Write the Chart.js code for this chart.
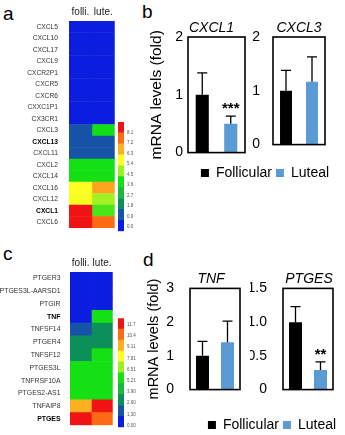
<!DOCTYPE html>
<html><head><meta charset="utf-8">
<script src="https://cdn.jsdelivr.net/npm/chart.js@4.4.1/dist/chart.umd.min.js"></script>
<style>
html,body{margin:0;padding:0;background:#fff;}
body{width:345px;height:435px;position:relative;overflow:hidden;font-family:'Liberation Sans',Arial,sans-serif;}
canvas{position:absolute;}
.lbl{position:absolute;font-size:19px;line-height:19px;color:#000;font-family:'Liberation Sans',Arial,sans-serif;}
</style></head><body>
<div class="lbl" style="left:3px;top:4px">a</div>
<div class="lbl" style="left:142px;top:2px">b</div>
<div class="lbl" style="left:3px;top:244px">c</div>
<div class="lbl" style="left:143px;top:250px">d</div>
<canvas id="heatA" width="116" height="235" style="left:0;top:0"></canvas>
<canvas id="cbarA" width="30" height="122" style="left:112px;top:115px"></canvas>
<canvas id="heatC" width="115" height="180" style="left:0;top:251px"></canvas>
<canvas id="cbarC" width="30" height="121" style="left:112px;top:312px"></canvas>
<canvas id="barB1" width="106" height="151" style="left:143px;top:15px"></canvas>
<canvas id="barB2" width="81" height="151" style="left:248px;top:15px"></canvas>
<canvas id="legB" width="140" height="60" style="left:195px;top:162px"></canvas>
<canvas id="barD1" width="103" height="150" style="left:141px;top:264px"></canvas>
<canvas id="barD2" width="87" height="150" style="left:250px;top:264px"></canvas>
<canvas id="legD" width="140" height="60" style="left:202px;top:414px"></canvas>
<script>
// ---------- data ----------
const heatCols = ['folli.', 'lute.'];
const geneA = ['CXCL5','CXCL10','CXCL17','CXCL9','CXCR2P1','CXCR5','CXCR6','CXXC1P1','CX3CR1','CXCL3','CXCL13','CXCL11','CXCL2','CXCL14','CXCL16','CXCL12','CXCL1','CXCL6'];
const folliA = [0.2,0.2,0.2,0.2,0.2,0.2,0.2,0.2,0.2,1.35,1.35,1.35,4.05,4.05,5.85,5.8,8.55,8.55];
const luteA  = [0.2,0.2,0.2,0.2,0.2,0.2,0.2,0.2,0.2,4.0,1.35,1.35,4.05,4.05,6.9,5.0,4.4,7.65];
const boldA = ['CXCL13','CXCL1'];
const cbarTicksA = ['0.0','0.9','1.8','2.7','3.6','4.5','5.4','6.3','7.2','8.1'];

const geneC = ['PTGER3','PTGES3L-AARSD1','PTGIR','TNF','TNFSF14','PTGER4','TNFSF12','PTGES3L','TNFRSF10A','PTGES2-AS1','TNFAIP8','PTGES'];
const folliC = [0.3,0.3,0.3,0.3,1.95,3.25,3.25,5.86,5.86,5.86,9.76,12.35];
const luteC  = [0.3,0.3,0.3,5.86,3.25,3.25,5.86,5.86,5.86,5.86,12.35,11.05];
const boldC = ['TNF','PTGES'];
const cbarTicksC = ['0.00','1.30','2.60','3.90','5.21','6.51','7.81','9.11','10.4','11.7'];

const palette = ['#0b1ee0','#1753a6','#0c905a','#1ab83c','#14e014','#9cf024','#ffff22','#ffb020','#ff6a14','#f01414'];

const groups = ['Follicular','Luteal'];
const groupColors = ['#000000','#5b9bd5'];
const cxcl1 = [1.0, 0.5],  cxcl1Err = [1.38, 0.63], cxcl1Sig = ['', '***'];
const cxcl3 = [1.0, 1.17], cxcl3Err = [1.38, 1.63], cxcl3Sig = ['', ''];
const tnf   = [1.0, 1.4],  tnfErr   = [1.43, 2.03], tnfSig   = ['', ''];
const ptges = [1.0, 0.29], ptgesErr = [1.23, 0.41], ptgesSig = ['', '**'];

const FONT = "'Liberation Sans', Arial, sans-serif";
Chart.defaults.font.family = FONT;
Chart.defaults.animation = false;
Chart.defaults.plugins.tooltip.enabled = false;
Chart.defaults.plugins.legend.display = false;

function hexRgb(h){return [1,3,5].map(i=>parseInt(h.substr(i,2),16));}
function heatColor(v, bin){
  let p = v/bin - 0.5; p = Math.max(0, Math.min(palette.length-1, p));
  const i = Math.min(Math.floor(p), palette.length-2), t = p - i;
  const a = hexRgb(palette[i]), b = hexRgb(palette[i+1]);
  const c = a.map((x,k)=>Math.round(x+(b[k]-x)*t));
  return `rgb(${c[0]},${c[1]},${c[2]})`;
}

function makeHeat(id, genes, f, l, bold, bin, fs, yW, tp, pad){
  new Chart(document.getElementById(id), {
    type:'bar',
    data:{labels:genes, datasets:[
      {data:genes.map(()=>[0,1]), backgroundColor:f.map(v=>heatColor(v,bin))},
      {data:genes.map(()=>[1,2]), backgroundColor:l.map(v=>heatColor(v,bin))}
    ]},
    options:{
      responsive:false, indexAxis:'y',
      layout:{padding:pad},
      datasets:{bar:{barPercentage:1, categoryPercentage:1, grouped:false, borderWidth:0}},
      scales:{
        y:{type:'category', grid:{display:false}, border:{display:false},
           afterFit:s=>{s.width=yW;},
           ticks:{autoSkip:false, padding:tp,
             color:ctx=>bold.includes(genes[ctx.index])?'#000':'#333',
             font:ctx=>({family:FONT, size:fs, weight:bold.includes(genes[ctx.index])?'bold':'normal'})}},
        x:{type:'linear', position:'top', min:0, max:2, grid:{display:false, drawTicks:false}, border:{display:false},
           afterFit:s=>{s.height=21;},
           afterBuildTicks:s=>{s.ticks=heatCols.map((c,i)=>({value:i+0.5}));},
           ticks:{autoSkip:false, maxRotation:0, padding:3, color:'#222', font:{size:10},
             callback:v=>heatCols[Math.floor(v)]}}
      }
    }
  });
}

function makeCbar(id, ticks, lo, hi, pad){
  const vals = ticks.map(parseFloat);
  new Chart(document.getElementById(id), {
    type:'bar',
    data:{labels:[''], datasets:palette.map(c=>({data:[1], backgroundColor:c}))},
    options:{
      responsive:false, layout:{padding:pad},
      datasets:{bar:{barPercentage:1, categoryPercentage:1, borderWidth:0}},
      scales:{
        x:{display:false, stacked:true},
        y:{display:false, stacked:true, min:0, max:palette.length},
        y2:{position:'right', min:lo, max:hi, grid:{display:false, drawTicks:false}, border:{display:false},
            afterFit:s=>{s.width=18;},
            afterBuildTicks:s=>{s.ticks=vals.map(v=>({value:v}));},
            ticks:{padding:3, color:'#555', font:{size:4.5}, autoSkip:false,
              callback:(v,i)=>ticks[i]}}
      }
    }
  });
}

const panelPlugin = {
  id:'panel',
  afterDatasetsDraw(chart, args, opts){
    const {ctx, chartArea:a} = chart; const y = chart.scales.y;
    ctx.save();
    chart.data.datasets.forEach((ds,i)=>{
      const meta = chart.getDatasetMeta(i);
      meta.data.forEach((bar,j)=>{
        const yt = y.getPixelForValue(ds.err[j]);
        ctx.strokeStyle='#000'; ctx.lineWidth=1.3;
        ctx.beginPath();
        ctx.moveTo(bar.x, bar.y); ctx.lineTo(bar.x, yt);
        ctx.moveTo(bar.x-5, yt); ctx.lineTo(bar.x+5, yt);
        ctx.stroke();
        if (ds.sig[j]) {
          ctx.fillStyle='#000'; ctx.font='bold 15px '+FONT;
          ctx.textAlign='center'; ctx.textBaseline='alphabetic';
          ctx.fillText(ds.sig[j], bar.x, yt-3);
        }
      });
    });
    ctx.strokeStyle='#000'; ctx.lineWidth=1.6;
    ctx.strokeRect(a.left, a.top, a.right-a.left, a.bottom-a.top);
    ctx.fillStyle='#000'; ctx.font='italic 14px '+FONT;
    ctx.textAlign='center'; ctx.textBaseline='middle';
    ctx.fillText(opts.title, (a.left+a.right)/2 + opts.dx, a.top-9);
    ctx.restore();
  }
};

function makeBar(id, vals, errs, sig, title, dx, max, step, yW, tPad, showY, ySize, barPct){
  new Chart(document.getElementById(id), {
    type:'bar',
    data:{labels:[''], datasets:groups.map((g,i)=>({label:g, data:[vals[i]], err:[errs[i]], sig:[sig[i]], backgroundColor:groupColors[i]}))},
    options:{
      responsive:false,
      layout:{padding:{top:22, right:4, bottom:4, left:0}},
      datasets:{bar:{barPercentage:barPct, categoryPercentage:1, borderWidth:0}},
      plugins:{panel:{title, dx}},
      scales:{
        x:{display:false},
        y:{min:0, max, grid:{display:false, drawTicks:false}, border:{display:false},
           afterFit:s=>{s.width=yW;},
           ticks:{stepSize:step, padding:tPad, color:'#000', font:{size:14}},
           title:{display:showY, text:'mRNA levels (fold)', color:'#000', font:{size:ySize}, padding:{top:4,bottom:0}}}
      }
    },
    plugins:[panelPlugin]
  });
}

function makeLegend(id){
  new Chart(document.getElementById(id), {
    type:'bar',
    data:{labels:[], datasets:groups.map((g,i)=>({label:g, data:[], backgroundColor:groupColors[i], borderWidth:0}))},
    options:{
      responsive:false,
      scales:{x:{display:false}, y:{display:false}},
      plugins:{legend:{display:true, position:'top',
        labels:{boxWidth:8, boxHeight:8, padding:4, color:'#000', font:{size:14}}}}
    }
  });
}

makeHeat('heatA', geneA, folliA, luteA, boldA, 0.9, 6.7, 69, 3, {right:1, bottom:2});
makeHeat('heatC', geneC, folliC, luteC, boldC, 1.302, 6.9, 70, 1.5, {right:2, bottom:2});
makeCbar('cbarA', cbarTicksA, -0.39, 9.03, {left:6, top:7, bottom:3.7, right:0});
makeCbar('cbarC', cbarTicksC, -0.19, 12.46, {left:6, top:6.3, bottom:3, right:0});
makeBar('barB1', cxcl1, cxcl1Err, cxcl1Sig, 'CXCL1', -5, 2, 1, 45, 5, true, 15.5, 0.46);
makeBar('barB2', cxcl3, cxcl3Err, cxcl3Sig, 'CXCL3', 0, 2, 1, 25, 13, false, 15.5, 0.46);
makeBar('barD1', tnf, tnfErr, tnfSig, 'TNF', -4, 3, 1, 49, 16, true, 14.5, 0.52);
makeBar('barD2', ptges, ptgesErr, ptgesSig, 'PTGES', 1, 1.5, 0.5, 33, 16, false, 14.5, 0.52);
makeLegend('legB');
makeLegend('legD');
</script>
</body></html>
